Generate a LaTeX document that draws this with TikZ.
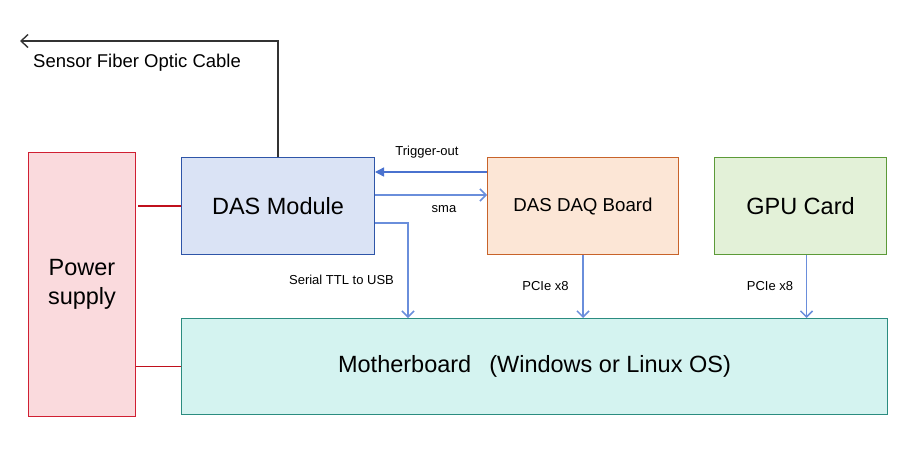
\documentclass[tikz,border=0pt]{standalone}
\usepackage{fontspec}
\setmainfont{Liberation Sans}
\usetikzlibrary{arrows.meta,calc}
\definecolor{psfill}{HTML}{FADADD}
\definecolor{psdraw}{HTML}{D01F32}
\definecolor{dasfill}{HTML}{DAE3F5}
\definecolor{dasdraw}{HTML}{2E55A8}
\definecolor{daqfill}{HTML}{FCE6D6}
\definecolor{daqdraw}{HTML}{C8632A}
\definecolor{gpufill}{HTML}{E3F1D8}
\definecolor{gpudraw}{HTML}{5C9A38}
\definecolor{mbfill}{HTML}{D4F3F0}
\definecolor{mbdraw}{HTML}{2B8C80}
\definecolor{linkblue}{HTML}{6A8EDB}
\definecolor{trigblue}{HTML}{4A72CF}
\definecolor{pwrline}{HTML}{C0101C}
\definecolor{fiber}{HTML}{333333}
\tikzset{
  box/.style={draw, line width=1pt, anchor=north west, inner sep=0pt, align=center, font=\fontsize{23.5}{29}\selectfont},
  lbl/.style={inner sep=0pt, font=\fontsize{13}{15}\selectfont},
  openarrow/.style={-{Straight Barb[length=6pt,width=12pt,line width=1.5pt]}, line width=1.5pt},
  bluelink/.style={draw=linkblue, openarrow},
  pwr/.style={draw=pwrline, line width=1.2pt}
}
\begin{document}
\begin{tikzpicture}[x=1pt,y=-1pt]
\useasboundingbox (0,0) rectangle (924,469);
\node[box, fill=psfill, draw=psdraw, minimum width=107pt, minimum height=264pt] (ps) at (28,152) {Power\\supply};
\node[box, fill=dasfill, draw=dasdraw, minimum width=193pt, minimum height=97pt] (das) at (181,157) {DAS Module};
\node[box, fill=daqfill, draw=daqdraw, minimum width=191pt, minimum height=97pt, font=\fontsize{18.7}{22}\selectfont] (daq) at (487,157) {DAS DAQ Board};
\node[box, fill=gpufill, draw=gpudraw, minimum width=172pt, minimum height=97pt] (gpu) at (714,157) {GPU Card};
\node[box, fill=mbfill, draw=mbdraw, minimum width=706pt, minimum height=96pt] (mb) at (181,318) {Motherboard\hspace{18pt}(Windows or Linux OS)};

% fiber
\coordinate (fiberend) at (20,41);
\draw[draw=fiber, line width=1.3pt, -{Straight Barb[length=7pt,width=13pt,line width=1.4pt]}] (das.north) |- (fiberend);
\node[lbl, anchor=west, font=\fontsize{18.5}{22}\selectfont] (fiblbl) at (33,62.5) {Sensor Fiber Optic Cable};

% trigger-out
\draw[draw=trigblue, line width=1.4pt, -{Triangle[length=9pt,width=9pt]}] ([yshift=-15pt]daq.north west) -- ([yshift=-15pt]das.north east);
\node[lbl] (trglbl) at (427,152) {Trigger-out};
% sma
\draw[bluelink] ([yshift=-38pt]das.north east) -- ([yshift=-38pt]daq.north west);
\node[lbl] (smalbl) at (444,209) {sma};
% serial
\coordinate (serbend) at (408,223);
\draw[bluelink] ([yshift=-66pt]das.north east) -- (serbend) -- (serbend |- mb.north);
\node[lbl] (serlbl) at (341.5,280) {Serial TTL to USB};
% PCIe
\draw[bluelink] (daq.south) -- (daq.south |- mb.north);
\node[lbl] (pcie1) at (545.5,286) {PCIe x8};
\draw[bluelink] ([xshift=6pt]gpu.south) -- ([xshift=6pt]gpu.south |- mb.north);
\node[lbl] (pcie2) at (770,286) {PCIe x8};

% power
\draw[pwr] (das.west) -- ([xshift=2pt]das.west -| ps.east);
\draw[pwr] (mb.west) -- (mb.west -| ps.east);
\end{tikzpicture}
\end{document}
